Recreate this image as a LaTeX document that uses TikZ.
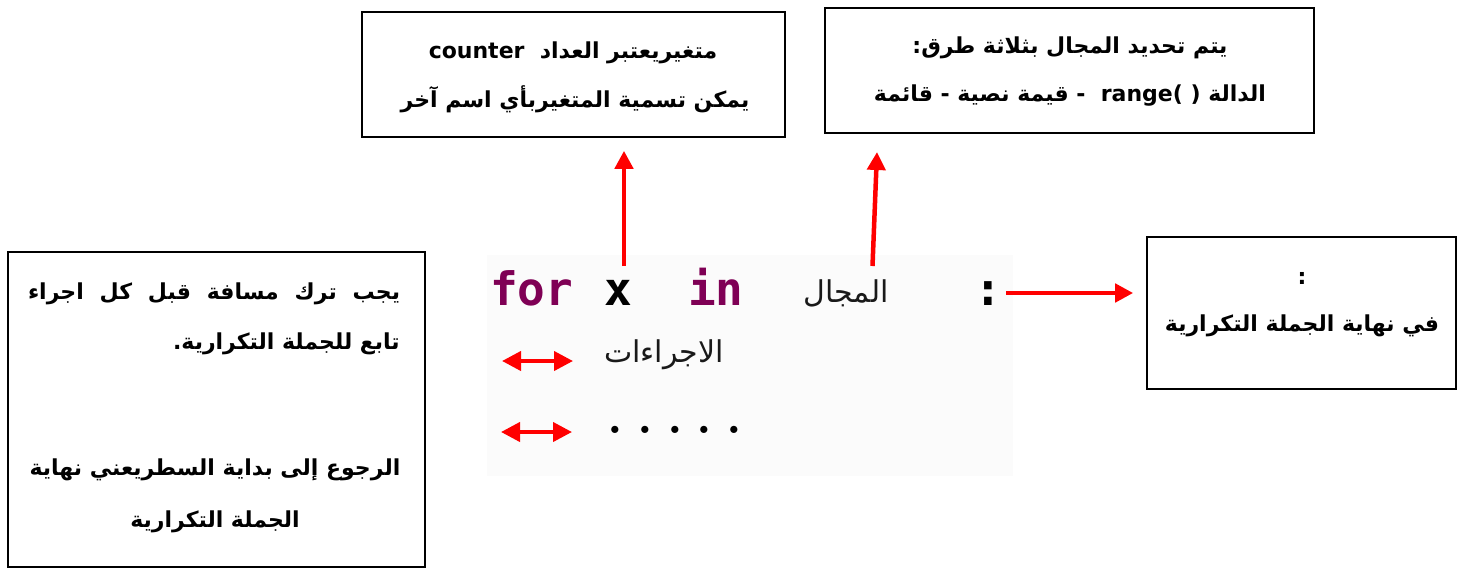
\documentclass[tikz,border=0pt]{standalone}
\usepackage{fontspec}
\usetikzlibrary{arrows.meta}
\TeXXeTstate=1
\newfontfamily\arabicfont[Script=Arabic]{DejaVu Sans}
\newfontfamily\latinfont{DejaVu Sans}
\newfontfamily\codefont{DejaVu Sans Mono}
\definecolor{kwpurple}{RGB}{127,0,85}
\definecolor{arrowred}{RGB}{255,0,0}
\definecolor{codebg}{RGB}{251,251,251}
\definecolor{codetext}{RGB}{25,25,25}

\tikzset{
  notebox/.style={draw=black, line width=1.6pt, inner sep=0pt},
  boxtext/.style={font=\arabicfont\bfseries\fontsize{22}{22}\selectfont, inner sep=0pt},
  kwtext/.style={font=\codefont\bfseries\fontsize{46}{46}\selectfont, text=kwpurple, inner sep=0pt},
  vartext/.style={font=\codefont\bfseries\fontsize{46}{46}\selectfont, text=black, inner sep=0pt},
  arabcode/.style={font=\arabicfont\fontsize{30}{30}\selectfont, text=codetext, inner sep=0pt},
  pointer/.style={draw=arrowred, line width=4.5pt, -{Triangle[length=18pt,width=18pt]}},
  indent/.style={draw=arrowred, line width=4pt, {Triangle[length=19pt,width=19pt]}-{Triangle[length=19pt,width=19pt]}}
}

\begin{document}
\begin{tikzpicture}[x=1pt,y=-1pt]
  \useasboundingbox (0,0) rectangle (1463,570);

  % code panel
  \fill[codebg] (487,255) rectangle (1013,476);
  \node[kwtext, anchor=base west] (kwfor) at (490,305) {for};
  \node[vartext, anchor=base west] (xvar) at (604,305) {x};
  \node[kwtext, anchor=base west] (kwin) at (688,305) {in};
  \node[arabcode, anchor=base] (range) at (846,302) {\beginR المجال\endR};
  \node[vartext, anchor=base] (colon) at (988,305) {:};
  \node[arabcode, anchor=base] (body) at (664,362) {\beginR الاجراءات\endR};
  \node[font=\rmfamily\bfseries\fontsize{50}{50}\selectfont, anchor=base, inner sep=0pt] (more) at (675,433)
    {.\hskip14pt.\hskip14pt.\hskip14pt.\hskip14pt.};

  % note boxes
  \node[notebox, minimum width=423pt, minimum height=125pt] (boxvar) at (573.5,74.5) {};
  \node[notebox, minimum width=489pt, minimum height=125pt] (boxrange) at (1069.5,70.5) {};
  \node[notebox, minimum width=417pt, minimum height=315pt] (boxindent) at (216.5,409.5) {};
  \node[notebox, minimum width=309pt, minimum height=152pt] (boxcolon) at (1301.5,313) {};

  % texts of the notes
  \node[boxtext] (v1) at (573,53) {\beginR متغيريعتبر العداد\ \ \beginL{\latinfont counter}\endL\endR};
  \node[boxtext] (v2) at (575,99) {\beginR يمكن تسمية المتغيربأي اسم آخر\endR};
  \node[boxtext] (r1) at (1070,48) {\beginR يتم تحديد المجال بثلاثة طرق:\endR};
  \node[boxtext] (r2) at (1070,96) {\beginR الدالة \beginL{\latinfont range( )}\endL{}\ \ - قيمة نصية - قائمة\endR};
  \node[boxtext] (i1) at (214,294) {\makebox[372pt][s]{\beginR يجب ترك مسافة قبل كل اجراء\endR}};
  \node[boxtext, anchor=east] (i2) at (400,344) {\beginR تابع للجملة التكرارية.\endR};
  \node[boxtext] (i3) at (215,470) {\beginR الرجوع إلى بداية السطريعني نهاية\endR};
  \node[boxtext] (i4) at (215,522) {\beginR الجملة التكرارية\endR};
  \node[boxtext] (c1) at (1302,278) {:};
  \node[boxtext] (c2) at (1302,326) {\beginR في نهاية الجملة التكرارية\endR};

  % pointers from the code to the notes
  \coordinate (xfoot) at (624,266);
  \coordinate (rfoot) at (872.5,266);
  \coordinate (rtip) at (877,152);
  \coordinate (ctail) at (1006,293);
  \draw[pointer, shorten >=13pt] (xfoot) -- (xfoot |- boxvar.south);
  \draw[pointer] (rfoot) -- (rtip);
  \draw[pointer, shorten >=13pt] (ctail) -- (ctail -| boxcolon.west);

  % indentation marks
  \coordinate (a1l) at (502,361);
  \coordinate (a1r) at (573,361);
  \coordinate (a2l) at (501,432);
  \coordinate (a2r) at (572,432);
  \draw[indent] (a1l) -- (a1r);
  \draw[indent] (a2l) -- (a2r);
\end{tikzpicture}
\end{document}
